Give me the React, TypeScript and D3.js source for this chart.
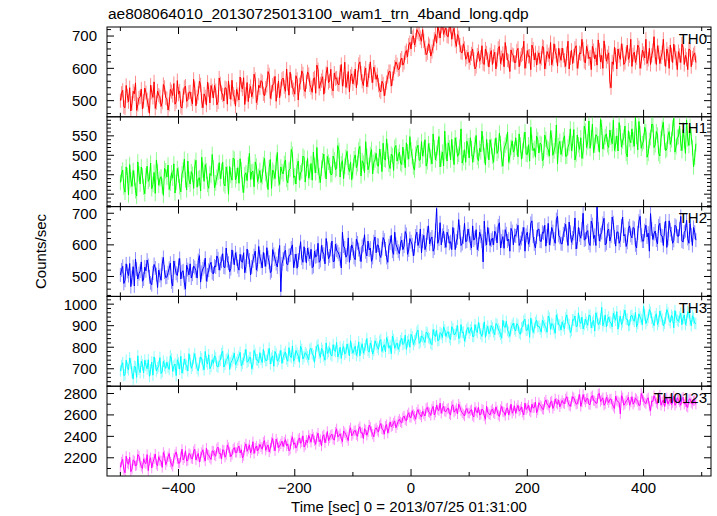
import React from "react";
import * as d3 from "d3";

const TITLE = "ae808064010_20130725013100_wam1_trn_4band_long.qdp";
const X_LABEL = "Time [sec] 0 = 2013/07/25 01:31:00";
const Y_LABEL = "Counts/sec";
// even bins: t = -500, -496, ..., 488 ; odd bins: t = -498, -494, ..., 490
const TIMES_A = d3.range(-500, 492, 4);
const TIMES_B = d3.range(-498, 494, 4);

const TH0_A = [
500,532,478,515,540,492,521,470,508,536,
498,525,485,548,510,476,530,512,495,541,
506,489,528,553,497,520,482,516,545,503,
527,490,538,512,560,499,521,486,534,547,
508,531,496,552,518,540,489,527,563,511,
535,502,548,571,520,497,544,528,566,509,
540,558,515,547,580,526,553,498,561,537,
570,529,552,588,541,520,566,549,592,535,
558,581,540,567,523,596,552,574,545,603,
561,538,585,570,549,612,566,541,590,575,
552,598,571,620,560,584,543,592,577,604,
566,548,527,552,538,575,590,568,604,611,
598,632,618,655,672,660,701,688,712,695,
720,664,648,670,652,690,678,715,730,705,
725,698,730,712,686,705,672,648,662,635,
618,645,628,606,652,634,615,660,628,642,
612,650,627,668,633,605,648,622,657,640,
618,662,630,645,600,655,638,672,626,610,
648,631,665,619,642,680,628,652,607,640,
663,625,646,598,656,638,670,621,645,660,
617,652,635,668,629,610,657,640,685,622,
648,540,612,642,660,628,655,618,672,639,
606,650,633,664,621,646,690,628,612,655,
637,670,615,648,629,660,600,642,675,631,
652,618,664,640,596,657,632,648];
const TH0_B = [
523,481,547,497,468,529,555,488,512,474,
539,503,461,526,558,494,517,482,550,509,
471,535,516,489,562,530,477,541,498,526,
505,566,484,523,549,478,512,557,493,530,
547,487,570,525,499,538,561,504,520,483,
519,573,536,488,556,530,512,582,494,548,
562,521,539,590,507,548,575,531,509,566,
543,598,517,561,534,577,502,556,583,528,
589,549,526,571,610,538,562,520,584,556,
597,530,568,552,588,545,619,560,527,583,
569,540,612,585,547,601,563,620,556,588,
580,532,560,515,556,590,545,584,620,596,
625,610,648,636,680,695,672,720,706,684,
685,642,676,638,668,705,730,694,740,718,
700,735,690,724,668,695,650,676,628,650,
632,660,598,641,622,670,612,648,604,655,
637,598,662,615,646,680,626,590,643,618,
654,605,641,684,622,637,596,660,648,633,
615,668,598,652,630,611,676,640,662,625,
640,606,684,632,615,662,600,648,690,621,
668,630,596,655,642,688,620,600,652,636,
560,620,665,598,640,676,612,645,628,690,
642,618,672,600,656,632,615,662,640,698,
612,650,635,690,606,645,672,618,650,596,
640,675,612,628,660,605,642,618];

const TH1_A = [
430,462,405,448,476,420,441,395,452,470,
418,447,433,480,425,402,458,439,421,466,
444,412,455,478,430,449,406,462,437,485,
426,451,470,418,442,495,433,460,415,448,
467,429,456,440,482,421,452,471,436,490,
447,428,463,404,455,476,438,459,483,432,
461,445,492,437,468,415,456,480,441,470,
452,488,429,465,503,447,472,436,459,494,
466,441,479,508,455,470,430,486,462,497,
474,451,489,466,512,478,440,495,469,482,
460,501,478,523,486,455,497,474,515,482,
505,472,496,531,488,510,466,499,520,485,
508,476,495,532,490,514,470,503,526,489,
498,540,483,512,478,519,505,548,491,473,
510,532,488,506,545,497,521,480,514,536,
493,518,502,551,486,509,530,475,512,540,
498,523,505,557,490,516,534,482,520,508,
545,496,527,511,560,502,485,532,518,549,
506,528,492,541,515,563,500,524,478,536,
517,550,498,530,512,566,503,527,545,510,
562,535,518,580,526,549,508,572,533,555,
520,546,590,529,511,558,537,575,496,541,
568,523,549,587,518,536,560,505,545,579,
527,552,498,570,534,516,561,540,595,522,
548,531,566,505,542,574,520,495];
const TH1_B = [
452,418,470,398,437,461,409,483,426,447,
401,472,439,414,456,488,423,445,397,460,
475,428,441,403,466,419,452,490,411,438,
458,415,487,440,408,462,476,425,453,502,
416,444,481,459,427,470,400,448,493,437,
468,491,424,450,435,505,457,419,472,446,
430,476,453,412,489,462,440,507,425,458,
479,438,462,515,443,426,485,455,498,431,
492,457,436,474,520,448,467,503,439,482,
450,498,463,525,444,486,472,510,458,437,
491,468,514,447,480,535,463,502,452,488,
474,516,458,490,542,477,503,461,525,497,
480,521,468,509,548,497,462,518,487,535,
515,472,530,496,555,488,520,470,508,562,
485,519,541,476,527,503,568,494,482,524,
545,482,527,495,518,562,499,541,488,523,
482,545,512,530,472,526,560,498,537,515,
520,555,490,538,503,527,572,512,495,540,
531,486,552,520,498,545,511,578,525,502,
540,497,521,568,530,488,552,515,492,575,
520,588,545,507,553,530,592,516,548,527,
565,530,512,550,584,521,546,505,563,532,
540,598,514,555,530,572,495,538,580,520,
561,505,543,585,512,550,528,570,508,546,
575,512,538,590,525,548,470,530];

const TH2_A = [
505,532,488,516,541,497,470,523,509,546,
492,518,535,480,511,527,465,503,540,514,
498,526,483,549,510,535,492,518,460,522,
540,507,528,495,566,513,531,485,520,545,
508,530,556,541,572,528,550,515,584,537,
556,520,548,575,532,561,505,549,580,538,
562,527,553,591,545,518,570,541,566,452,
555,583,537,568,600,549,526,575,558,594,
543,570,586,532,562,605,551,578,540,589,
565,612,548,583,570,527,596,561,622,574,
588,553,606,570,595,632,565,584,548,610,
575,598,560,623,587,545,606,580,640,592,
572,615,596,633,584,610,565,628,598,650,
612,585,638,603,625,590,715,618,600,643,
592,628,610,655,585,622,640,604,668,612,
630,590,615,648,602,627,546,619,655,598,
621,643,606,670,612,589,635,618,652,600,
628,662,607,634,580,640,615,676,603,625,
650,611,637,596,668,620,642,605,690,624,
603,647,630,672,608,636,587,655,621,700,
618,645,598,664,630,720,612,639,684,605,
650,627,670,596,641,615,688,633,608,660,
622,652,590,675,630,612,662,637,699,617,
644,603,668,628,651,592,676,635,614,658,
627,690,609,645,620,668,598,640];
const TH2_B = [
521,478,540,503,468,531,555,492,517,485,
530,552,499,474,538,506,520,488,560,497,
512,542,470,528,503,557,515,480,536,505,
495,533,518,550,482,524,558,505,537,512,
533,565,520,548,530,590,542,525,560,575,
531,570,545,512,587,552,530,566,520,595,
548,576,532,560,512,585,555,530,598,540,
575,540,566,590,528,571,552,610,545,568,
590,556,528,580,565,545,598,570,620,556,
585,547,602,578,556,640,590,568,545,600,
560,618,585,547,600,578,612,590,560,625,
600,568,588,615,560,597,630,570,602,580,
605,585,642,570,620,600,588,640,612,575,
630,600,660,618,580,645,605,670,630,612,
640,605,585,632,612,680,598,625,610,650,
605,660,622,585,640,612,675,600,632,615,
600,635,660,590,626,648,612,580,642,630,
645,598,620,655,630,602,668,628,590,648,
612,640,662,628,600,655,618,680,630,604,
635,665,598,640,622,685,610,632,650,615,
640,606,675,620,598,650,632,668,600,645,
612,688,625,640,605,660,628,595,652,630,
655,600,638,690,612,645,625,580,650,635,
615,660,630,598,675,620,648,605,662,628,
650,612,640,678,605,632,655,615];

const TH3_A = [
690,728,672,705,750,683,712,660,698,735,
681,716,742,695,670,723,704,752,688,715,
730,697,745,712,668,726,758,703,721,690,
738,715,770,702,728,746,695,733,765,711,
725,752,708,740,782,721,748,697,737,772,
730,758,714,745,790,736,752,720,768,741,
775,729,756,738,795,749,712,768,744,785,
752,778,735,760,806,748,772,730,790,757,
768,742,795,760,778,812,753,785,740,771,
798,760,785,822,770,748,803,776,790,830,
772,805,780,760,816,792,840,777,805,786,
815,790,836,800,778,826,808,852,795,820,
805,842,818,790,835,860,812,838,880,825,
848,822,866,840,812,858,878,833,862,895,
850,872,836,885,860,900,845,868,828,882,
865,892,850,878,915,862,884,846,898,875,
890,858,905,873,842,896,920,870,888,912,
875,902,860,895,930,880,846,905,888,925,
898,870,915,890,945,883,906,865,930,902,
918,885,950,905,878,925,896,960,910,885,
930,902,948,915,875,938,910,985,920,895,
940,912,958,925,884,944,918,972,930,903,
948,920,895,955,928,990,910,938,962,915,
942,905,968,930,912,975,925,948,890,940,
920,958,935,905,965,928,946,912];
const TH3_B = [
715,668,740,695,725,652,708,760,682,718,
740,700,665,731,755,690,712,678,735,702,
708,760,688,722,742,698,680,745,715,770,
702,748,726,690,755,718,780,722,700,742,
760,712,735,770,708,742,765,728,750,718,
742,776,726,762,730,752,700,785,742,728,
745,790,738,768,722,760,780,735,758,725,
768,745,798,752,735,785,760,805,745,775,
755,790,770,730,805,772,795,758,820,780,
765,812,780,755,800,790,768,815,760,795,
790,762,825,796,772,808,785,820,768,830,
800,828,780,812,845,795,770,835,810,790,
830,812,856,826,800,848,830,870,818,852,
835,870,845,818,882,850,830,868,845,880,
868,845,895,858,876,840,905,870,850,892,
880,850,905,868,888,850,918,878,862,900,
872,910,885,860,925,892,878,850,902,885,
910,868,890,922,878,905,935,868,915,895,
885,925,900,870,935,910,885,950,905,880,
900,935,910,868,928,945,898,920,940,905,
915,948,890,925,960,905,930,900,950,925,
918,895,940,965,920,905,950,930,900,945,
930,962,910,940,905,950,925,975,935,900,
955,920,945,900,935,960,915,940,970,925,
940,905,950,925,960,900,935,910];

const TH0123_A = [
2110,2185,2060,2150,2205,2095,2170,2130,2215,2120,
2190,2145,2080,2200,2160,2235,2125,2175,2110,2220,
2165,2240,2140,2195,2255,2150,2210,2180,2265,2175,
2230,2190,2280,2215,2160,2250,2205,2290,2225,2185,
2260,2215,2300,2240,2275,2205,2320,2255,2230,2295,
2250,2310,2275,2220,2330,2285,2245,2350,2290,2265,
2325,2280,2360,2300,2255,2345,2310,2375,2295,2330,
2305,2370,2330,2280,2395,2340,2310,2385,2350,2300,
2365,2410,2345,2390,2325,2430,2370,2400,2340,2445,
2385,2420,2365,2470,2405,2380,2450,2415,2360,2480,
2420,2455,2400,2490,2435,2470,2410,2505,2445,2395,
2480,2440,2520,2460,2495,2430,2535,2500,2545,2510,
2560,2525,2590,2545,2620,2575,2605,2560,2650,2600,
2635,2590,2670,2620,2655,2600,2690,2640,2615,2680,
2630,2665,2600,2695,2640,2610,2675,2620,2590,2660,
2615,2650,2580,2635,2670,2605,2645,2560,2625,2600,
2655,2610,2640,2585,2680,2625,2660,2600,2700,2640,
2615,2690,2650,2625,2710,2665,2640,2700,2670,2620,
2715,2680,2650,2740,2690,2720,2660,2750,2700,2675,
2735,2705,2770,2690,2725,2760,2700,2745,2680,2790,
2720,2755,2695,2780,2730,2710,2800,2740,2690,2765,
2715,2750,2680,2775,2725,2610,2760,2705,2740,2690,
2770,2720,2745,2690,2800,2735,2705,2760,2640,2725,
2750,2700,2785,2720,2680,2760,2730,2695,2775,2710,
2740,2690,2765,2720,2670,2750,2700,2735];
const TH0123_B = [
2160,2090,2215,2140,2070,2180,2125,2230,2155,2100,
2155,2230,2175,2105,2190,2140,2210,2170,2250,2135,
2210,2160,2120,2230,2190,2150,2280,2200,2170,2240,
2195,2260,2180,2240,2210,2275,2170,2230,2200,2265,
2225,2285,2240,2190,2270,2230,2295,2210,2280,2250,
2290,2245,2200,2300,2260,2320,2275,2240,2310,2285,
2300,2345,2270,2320,2290,2380,2265,2340,2310,2355,
2345,2310,2265,2360,2325,2290,2370,2335,2405,2320,
2340,2380,2420,2360,2395,2350,2310,2415,2385,2360,
2410,2375,2440,2395,2425,2350,2435,2390,2455,2405,
2450,2415,2470,2430,2380,2460,2440,2485,2420,2465,
2455,2500,2470,2420,2510,2475,2490,2525,2480,2540,
2535,2575,2555,2600,2580,2640,2590,2625,2610,2580,
2610,2660,2630,2595,2680,2625,2650,2710,2660,2635,
2655,2610,2680,2625,2660,2700,2640,2605,2645,2620,
2640,2595,2670,2620,2600,2655,2590,2680,2610,2640,
2620,2675,2600,2650,2630,2595,2665,2640,2615,2685,
2660,2635,2675,2600,2650,2690,2625,2665,2720,2645,
2690,2655,2720,2700,2665,2730,2685,2710,2740,2705,
2710,2750,2720,2680,2770,2730,2705,2790,2720,2745,
2750,2700,2770,2735,2710,2795,2725,2760,2705,2740,
2745,2700,2660,2735,2715,2780,2690,2730,2765,2720,
2700,2755,2725,2690,2770,2715,2745,2680,2730,2780,
2715,2765,2690,2740,2725,2700,2750,2715,2690,2760,
2720,2750,2700,2680,2745,2715,2730,2700];

const NAMES = ["TH0", "TH1", "TH2", "TH3", "TH0123"];
const SERIES_A = [TH0_A, TH1_A, TH2_A, TH3_A, TH0123_A];
const SERIES_B = [TH0_B, TH1_B, TH2_B, TH3_B, TH0123_B];
const ERRORS = [22, 20, 22, 27, 48];
const Y_DOMAINS = [[450, 728], [368, 599], [437, 721], [619, 1036], [2030, 2868]];
const Y_MAJOR = [100, 50, 100, 100, 200];
const Y_MINOR = [20, 10, 20, 20, 100];
const X_TICKS = [-500, -400, -300, -200, -100, 0, 100, 200, 300, 400, 500];
const X_LABELED = [-400, -200, 0, 200, 400];
const COLORS = ["#ff0000", "#00ff00", "#0000ff", "#00ffff", "#ff00ff"];
const ERR_COLORS = ["#ff8c8c", "#8cff8c", "#8c8cff", "#8cffff", "#ff8cff"];

const W = 717, H = 516;
const LEFT = 107, RIGHT = 711, TOP = 27, BOTTOM = 476;
const FONT = "'Liberation Sans', Arial, Helvetica, sans-serif";

function fmt(v: number) {
  return v < 0 ? "\u2212" + Math.abs(v) : String(v);
}

function merged(k: number): [number, number][] {
  const out: [number, number][] = [];
  SERIES_A[k].forEach((v, i) => {
    out.push([TIMES_A[i], v]);
    if (i < SERIES_B[k].length) out.push([TIMES_B[i], SERIES_B[k][i]]);
  });
  return out;
}

export default function App() {
  const x = d3.scaleLinear().domain([-523, 516]).range([LEFT, RIGHT]);
  const ph = (BOTTOM - TOP) / NAMES.length;

  const panels = NAMES.map((name, k) => {
    const pts = merged(k);
    const y0 = TOP + k * ph;
    const y1 = y0 + ph;
    const y = d3.scaleLinear().domain(Y_DOMAINS[k]).range([y1, y0]);
    const line = d3.line<[number, number]>().x((d) => x(d[0])).y((d) => y(d[1]));
    const [lo, hi] = Y_DOMAINS[k];
    const minor = d3.range(Math.ceil(lo / Y_MINOR[k]) * Y_MINOR[k], hi + 0.001, Y_MINOR[k]);
    const clipId = `clip${k}`;
    return (
      <g key={k}>
        <defs>
          <clipPath id={clipId}>
            <rect x={LEFT} y={y0} width={RIGHT - LEFT} height={ph} />
          </clipPath>
        </defs>
        <g clipPath={`url(#${clipId})`}>
          {pts.map((d, i) => (
            <line key={i} x1={x(d[0])} x2={x(d[0])} y1={y(d[1] - ERRORS[k])} y2={y(d[1] + ERRORS[k])}
              stroke={ERR_COLORS[k]} strokeWidth={1} />
          ))}
          <path d={line(pts) || ""} fill="none" stroke={COLORS[k]} strokeWidth={1} />
        </g>
        {minor.map((v) => {
          const major = Math.abs(v / Y_MAJOR[k] - Math.round(v / Y_MAJOR[k])) < 1e-6;
          const len = major ? 7 : 4;
          return (
            <g key={"y" + v}>
              <line x1={LEFT} x2={LEFT + len} y1={y(v)} y2={y(v)} stroke="#000" strokeWidth={1} />
              <line x1={RIGHT} x2={RIGHT - len} y1={y(v)} y2={y(v)} stroke="#000" strokeWidth={1} />
              {major && (
                <text x={97} y={y(v)} dy="0.36em" textAnchor="end" fontSize={15} fontFamily={FONT}>{fmt(v)}</text>
              )}
            </g>
          );
        })}
        {X_TICKS.map((t) => {
          const len = X_LABELED.includes(t) ? 7 : 4;
          return (
            <g key={"x" + t}>
              <line x1={x(t)} x2={x(t)} y1={y0} y2={y0 + len} stroke="#000" strokeWidth={1} />
              <line x1={x(t)} x2={x(t)} y1={y1} y2={y1 - len} stroke="#000" strokeWidth={1} />
            </g>
          );
        })}
        <rect x={LEFT} y={y0} width={RIGHT - LEFT} height={ph} fill="none" stroke="#000" strokeWidth={1} />
        <text x={707} y={y0 + 16.5} textAnchor="end" fontSize={15} fontFamily={FONT}>{name}</text>
      </g>
    );
  });

  return (
    <svg width={W} height={H} style={{ position: "absolute", left: 0, top: 0, background: "#fff" }}>
      <rect width={W} height={H} fill="#fff" />
      <text x={108} y={19} fontSize={15.5} fontFamily={FONT}>{TITLE}</text>
      {panels}
      {X_LABELED.map((t) => (
        <text key={t} x={x(t)} y={493} textAnchor="middle" fontSize={15} fontFamily={FONT}>{fmt(t)}</text>
      ))}
      <text x={(LEFT + RIGHT) / 2} y={512} textAnchor="middle" fontSize={15} fontFamily={FONT}>{X_LABEL}</text>
      <text transform={`translate(46,${(TOP + BOTTOM) / 2}) rotate(-90)`} textAnchor="middle" fontSize={15} fontFamily={FONT}>{Y_LABEL}</text>
    </svg>
  );
}
